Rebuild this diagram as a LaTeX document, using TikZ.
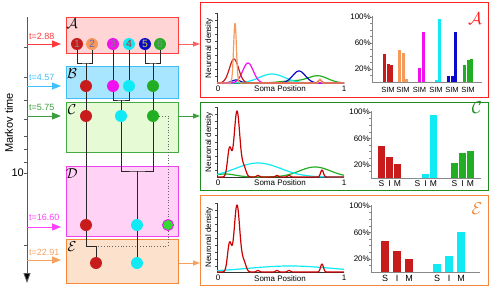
\documentclass[tikz,border=0pt]{standalone}
\usepackage{fontspec}
\setmainfont{Liberation Sans}
\usetikzlibrary{arrows.meta}
\definecolor{cRed}{HTML}{C81C1C}
\definecolor{cOr}{HTML}{F59A5A}
\definecolor{cMag}{HTML}{F010F0}
\definecolor{cCy}{HTML}{10EAF5}
\definecolor{cBl}{HTML}{0A0ACC}
\definecolor{cGr}{HTML}{22AE22}
\definecolor{cGrB}{HTML}{30DC30}
\definecolor{Afill}{HTML}{FFD5D5}\definecolor{Aline}{HTML}{FF4040}
\definecolor{Bfill}{HTML}{A8E6FF}\definecolor{Bline}{HTML}{3FBFF5}
\definecolor{Cfill}{HTML}{E6FAD5}\definecolor{Cline}{HTML}{44AA44}
\definecolor{Dfill}{HTML}{FFD2F6}\definecolor{Dline}{HTML}{F040F0}
\definecolor{Efill}{HTML}{FCE1CD}\definecolor{Eline}{HTML}{F5883A}
\definecolor{tA}{HTML}{FF3A3A}
\definecolor{tB}{HTML}{40C0FF}
\definecolor{tC}{HTML}{3C9E3C}
\definecolor{tD}{HTML}{FF40FF}
\definecolor{tE}{HTML}{F8A060}
\definecolor{pA}{HTML}{FF2020}
\definecolor{pC}{HTML}{1E8C1E}
\definecolor{pE}{HTML}{F5883A}
\definecolor{axg}{HTML}{888888}
\begin{document}
\begin{tikzpicture}[x=1pt,y=-1pt,
  declare function={gs(\x,\m,\s)=exp(-min(((\x-\m)/\s)*((\x-\m)/\s),20));},
  tbox/.style={draw, line width=0.9pt, minimum width=112pt, anchor=north west, inner sep=0pt},
  panel/.style={draw, line width=1.3pt, minimum width=288pt, anchor=north west, inner sep=0pt},
  dot/.style={circle, minimum size=12pt, inner sep=0pt, font=\fontsize{10.5}{10.5}\selectfont},
  conn/.style={line width=0.9pt, black!85},
  dotconn/.style={line width=0.8pt, black!60, dotted},
  tarrow/.style={line width=1pt, -{Triangle[length=9pt,width=7pt]}},
  parrow/.style={line width=1pt, -{Triangle[length=7pt,width=5pt]}},
  tlab/.style={anchor=south west, inner sep=0pt, font=\fontsize{9}{9}\selectfont},
  bletter/.style={inner sep=0pt, font=\fontsize{14}{14}\selectfont},
  pletter/.style={inner sep=0pt, font=\fontsize{17}{17}\selectfont},
  curve/.style={line width=1.2pt, line join=round},
  small/.style={inner sep=0pt, font=\fontsize{8}{8}\selectfont},
  tick/.style={inner sep=0pt, font=\fontsize{8}{8}\selectfont, anchor=east},
  sim/.style={inner sep=0pt, font=\fontsize{7.5}{7.5}\selectfont},
  simb/.style={inner sep=0pt, font=\fontsize{9}{9}\selectfont},
  dax/.style={line width=0.8pt, black!80},
  bax/.style={line width=0.8pt, axg}
]
\useasboundingbox (0,0) rectangle (493,292);

% ---------- time axis ----------
\draw[line width=0.9pt, black!65, -{Triangle[length=10pt,width=7pt,fill=black]}] (27,17) -- (27,283);
\foreach \t in {3,4,5,6,7,8,9,10,20}
  \draw[line width=0.6pt, black!65] (24,{173+240*(log10(\t)-1)}) -- (27,{173+240*(log10(\t)-1)});
\node[inner sep=0pt, anchor=east, font=\fontsize{11}{11}\selectfont] (ten) at (24,173) {10};
\node[inner sep=0pt, rotate=90, font=\fontsize{11}{11}\selectfont] (mt) at (9,123) {Markov time};

% ---------- boxes ----------
\node[tbox, fill=Afill, draw=Aline, minimum height=36pt] (boxA) at (66,17) {};
\node[tbox, fill=Bfill, draw=Bline, minimum height=32pt] (boxB) at (66,66) {};
\node[tbox, fill=Cfill, draw=Cline, minimum height=50pt] (boxC) at (66,102) {};
\node[tbox, fill=Dfill, draw=Dline, minimum height=70pt] (boxD) at (66,166) {};
\node[tbox, fill=Efill, draw=Eline, minimum height=44pt] (boxE) at (66,239) {};
\node[bletter] (lA) at (72,24) {$\mathcal{A}$};
\node[bletter] (lB) at (72,74) {$\mathcal{B}$};
\node[bletter] (lC) at (72,110) {$\mathcal{C}$};
\node[bletter] (lD) at (72,174) {$\mathcal{D}$};
\node[bletter] (lE) at (72,247) {$\mathcal{E}$};

% ---------- time arrows ----------
\coordinate (tA) at (27,44);
\coordinate (tB) at (27,86);
\coordinate (tC) at (27,116);
\coordinate (tD) at (27,227);
\coordinate (tE) at (27,260);
\draw[tarrow, tA] (tA) -- ([xshift=-5pt]boxA.west |- tA);
\draw[tarrow, tB] (tB) -- ([xshift=-5pt]boxB.west |- tB);
\draw[tarrow, tC] (tC) -- ([xshift=-5pt]boxC.west |- tC);
\draw[tarrow, tD] (tD) -- ([xshift=-5pt]boxD.west |- tD);
\draw[tarrow, tE] (tE) -- ([xshift=-5pt]boxE.west |- tE);
\node[tlab, text=tA] (ltA) at (29,40) {t=2.88};
\node[tlab, text=tB] (ltB) at (29,81) {t=4.57};
\node[tlab, text=tC] (ltC) at (29,111) {t=5.75};
\node[tlab, text=tD] (ltD) at (29,221) {t=16.60};
\node[tlab, text=tE] (ltE) at (29,256) {t=22.91};

% ---------- communities ----------
\node[dot, fill=cRed, text=black!45] (a1) at (77,44) {1};
\node[dot, fill=cOr, text=black!45!blue!60] (a2) at (92,44) {2};
\node[dot, fill=cMag, text=black!50] (a3) at (113,44) {3};
\node[dot, fill=cCy, text=cRed] (a4) at (129,44) {4};
\node[dot, fill=cBl, text=yellow!85!black] (a5) at (145,44) {5};
\node[dot, fill=cGr, text=black!45] (a6) at (160,44) {6};

\node[dot, fill=cRed] (b1) at (86,86) {};
\node[dot, fill=cMag] (b2) at (113,86) {};
\node[dot, fill=cCy] (b3) at (129,86) {};
\node[dot, fill=cGr] (b4) at (153,86) {};

\node[dot, fill=cRed] (c1) at (86,116) {};
\node[dot, fill=cCy] (c2) at (121,116) {};
\node[dot, fill=cGr] (c3) at (153,116) {};

\node[dot, fill=cRed] (d1) at (86,225) {};
\node[dot, fill=cCy] (d2) at (137,225) {};
\node[dot, fill=cGrB, draw=cMag, line width=0.9pt, minimum size=11pt] (d3) at (168,225) {};

\node[dot, fill=cRed] (e1) at (96,263) {};
\node[dot, fill=cCy] (e2) at (137,263) {};

\coordinate (jA12) at (86,63);
\coordinate (jA56) at (153,63);
\coordinate (jB23) at (121,100);
\coordinate (jC23) at (137,171);
\coordinate (jDE) at (96,246);

\draw[conn] (a1) |- (jA12) -| (a2);
\draw[conn] (jA12) -- (b1);
\draw[conn] (a5) |- (jA56) -| (a6);
\draw[conn] (jA56) -- (b4);
\draw[conn] (a3) -- (b2);
\draw[conn] (a4) -- (b3);
\draw[conn] (b2) |- (jB23) -| (b3);
\draw[conn] (jB23) -- (c2);
\draw[conn] (b1) -- (c1);
\draw[conn] (b4) -- (c3);
\draw[conn] (c2) |- (jC23) -| (c3);
\draw[conn] (jC23) -- (d2);
\draw[conn] (c1) -- (d1);
\draw[dotconn] (c3) -| (d3);
\draw[dotconn] (d3) |- (jDE);
\draw[conn] (d1) |- (jDE) -- (e1);
\draw[conn] (d2) -- (e2);

% ---------- panels ----------
\node[panel, draw=pA, minimum height=95pt] (panA) at (200,2) {};
\node[panel, draw=pC, minimum height=88pt] (panC) at (200,102) {};
\node[panel, draw=pE, minimum height=90pt] (panE) at (200,195) {};
\draw[parrow, tA!80] (boxA.east |- a1) -- (panA.west |- a1);
\draw[parrow, tC] (boxC.east |- c1) -- (panC.west |- c1);
\draw[parrow, tE] (boxE.east |- e1) -- (panE.west |- e1);
\node[pletter, text=pA] (pla) at (475,19) {$\mathcal{A}$};
\node[pletter, text=pC] (plc) at (477,108) {$\mathcal{C}$};
\node[pletter, text=pE] (ple) at (477,209) {$\mathcal{E}$};

% ---------- density axes ----------
\foreach \top/\bot/\nm in {13/83/A,107/177/C,203/272/E}{
  \draw[dax] (217,\top) -- (217,\bot) -- (344,\bot);
  \foreach \k in {0,...,9} \draw[line width=0.5pt, black!70] (215,{\top+\k*7}) -- (217,{\top+\k*7});
  \node[small, anchor=north] at (218,\bot+3) {0};
  \node[small, anchor=north] at (344,\bot+3) {1};
  \node[small, anchor=north] at (280,\bot+3) {Soma Position};
  \node[small, rotate=90] at (209,{(\top+\bot)/2}) {Neuronal density};
}

% density A
\draw[curve, cGr] plot[domain=217:344, samples=140] (\x, {83-7*gs(\x,318,14)-2*gs(\x,292,18)});
\draw[curve, cCy] plot[domain=217:344, samples=140] (\x, {83-9*gs(\x,272,18)});
\draw[curve, cBl] plot[domain=217:344, samples=180] (\x, {83-12*gs(\x,299,9)-3*gs(\x,236,6)});
\draw[curve, cMag] plot[domain=217:344, samples=180] (\x, {83-20*gs(\x,248,7.5)});
\draw[curve, cRed] plot[domain=217:344, samples=200] (\x, {83-24*gs(\x,234,6.5)-3*gs(\x,320,2.5)});
\draw[curve, cOr] plot[domain=217:344, samples=300] (\x, {83-60*gs(\x,235,2)-4*gs(\x,320,1.5)});

% density C
\draw[curve, cGr] plot[domain=217:344, samples=140] (\x, {177-10*gs(\x,315,22)-3*gs(\x,225,15)});
\draw[curve, cCy] plot[domain=217:344, samples=140] (\x, {177-14*gs(\x,258,32)});
\draw[curve, red!80!black] plot[domain=217:344, samples=300] (\x, {177-66*gs(\x,237,4)-28*gs(\x,229.5,2.8)-9*gs(\x,244,3)-7*gs(\x,322,2)-1.5*gs(\x,258,2)-1.5*gs(\x,277,2)-1.5*gs(\x,289,2)});

% density E
\draw[curve, cCy] plot[domain=217:344, samples=140] (\x, {272-6*gs(\x,290,60)});
\draw[curve, red!80!black] plot[domain=217:344, samples=300] (\x, {272-67*gs(\x,237,4)-28*gs(\x,229.5,2.8)-9*gs(\x,244,3)-8*gs(\x,322,2)-1.5*gs(\x,258,2)-1.5*gs(\x,277,2)-1.5*gs(\x,289,2)});

% ---------- bar axes ----------
\foreach \bx/\base/\k/\xe in {372/82/0.65/482, 371/178/0.66/481, 371/272/0.66/480}{
  \draw[bax] (\bx,{\base-100*\k-1}) -- (\bx,\base) -- (\xe,\base);
  \foreach \p in {10,20,...,100} \draw[line width=0.5pt, axg] (\bx-2,{\base-\p*\k}) -- (\bx,{\base-\p*\k});
  \node[tick] at (\bx-1,{\base-100*\k}) {100\%};
  \node[tick] at (\bx-1,{\base-60*\k}) {60\%};
  \node[tick] at (\bx-1,{\base-20*\k}) {20\%};
}

% bars A (base 82, k .65, width 3)
\foreach \c/\s/\i/\m/\col in {388/43/28/26/cRed, 403/49/45/5/cOr, 419.5/0/22/77/cMag, 436/0/3/97/cCy, 452/10/10/77/cBl, 468/26/34/36/cGr}{
  \fill[\col] (\c-5,82) rectangle ++(3,{-0.65*\s});
  \fill[\col] (\c-1.5,82) rectangle ++(3,{-0.65*\i});
  \fill[\col] (\c+2,82) rectangle ++(3,{-0.65*\m});
  \node[sim] at (\c,90) {SIM};
}

% bars C (base 178, k .66, width 6.5, pitch 8)
\foreach \c/\s/\i/\m/\col in {389.5/49/32/21/cRed, 425.5/0/6/95/cCy, 462.5/22/38/41/cGr}{
  \fill[\col] (\c-11.25,178) rectangle ++(6.5,{-0.66*\s});
  \fill[\col] (\c-3.25,178) rectangle ++(6.5,{-0.66*\i});
  \fill[\col] (\c+4.75,178) rectangle ++(6.5,{-0.66*\m});
  \node[simb, font=\fontsize{8.5}{8.5}\selectfont] at (\c-8,184) {S};
  \node[simb, font=\fontsize{8.5}{8.5}\selectfont] at (\c,184) {I};
  \node[simb, font=\fontsize{8.5}{8.5}\selectfont] at (\c+8,184) {M};
}

% bars E (base 272, k .66, width 7.5, pitch 12)
\foreach \c/\s/\i/\m/\col in {397/47/32/19/cRed, 449/12/25/60/cCy}{
  \fill[\col] (\c-15.75,272) rectangle ++(7.5,{-0.66*\s});
  \fill[\col] (\c-3.75,272) rectangle ++(7.5,{-0.66*\i});
  \fill[\col] (\c+8.25,272) rectangle ++(7.5,{-0.66*\m});
  \node[simb] at (\c-12,278.5) {S};
  \node[simb] at (\c,278.5) {I};
  \node[simb] at (\c+12,278.5) {M};
}
\end{tikzpicture}
\end{document}
